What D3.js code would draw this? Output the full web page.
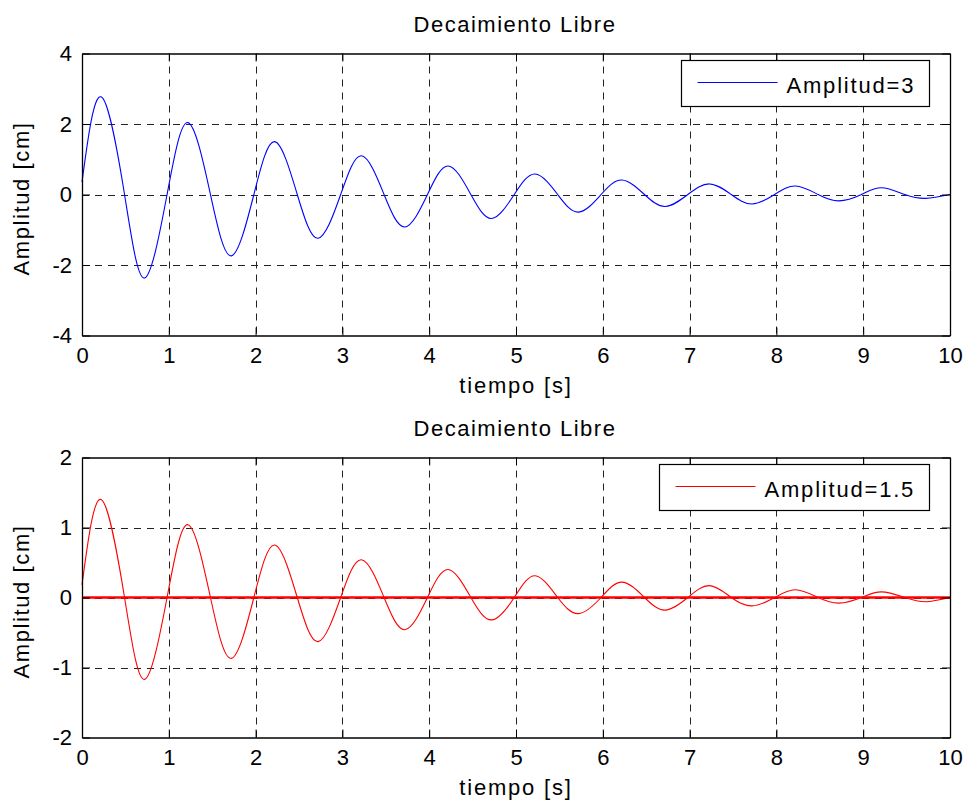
<!DOCTYPE html>
<html>
<head>
<meta charset="utf-8">
<script src="https://cdn.jsdelivr.net/npm/d3@7"></script>
<style>
  body { margin: 0; background: #fff; }
  text { font-family: "Liberation Sans", Arial, Helvetica, sans-serif; fill: #000; }
</style>
</head>
<body>
<div id="chart"></div>
<script>
// valores
var tiempo = [0, 0.22, 0.49, 0.72, 0.98, 1.22, 1.48, 1.72, 1.98, 2.22, 2.48, 2.72, 2.98,
  3.22, 3.48, 3.72, 3.98, 4.22, 4.48, 4.72, 4.98, 5.22, 5.48, 5.72, 5.98, 6.22, 6.48,
  6.72, 6.98, 7.23, 7.48, 7.72, 7.98, 8.22, 8.48, 8.72, 8.98, 9.21, 9.48, 9.72, 10];

var amp3 = [0.35, 2.77, 0, -2.37, 0, 2.04, 0, -1.74, 0, 1.5, 0, -1.24, 0,
  1.1, 0, -0.92, 0, 0.81, 0, -0.68, 0, 0.58, 0, -0.5, 0, 0.41, 0,
  -0.34, 0, 0.3, 0, -0.27, 0, 0.24, 0, -0.18, 0, 0.19, 0, -0.11, 0];

var amp15 = [0.18, 1.4, 0, -1.17, 0, 1.04, 0, -0.87, 0, 0.75, 0, -0.63, 0,
  0.54, 0, -0.46, 0, 0.4, 0, -0.32, 0, 0.31, 0, -0.23, 0, 0.22, 0,
  -0.18, 0, 0.17, 0, -0.12, 0, 0.11, 0, -0.08, 0, 0.08, 0, -0.06, 0];

var xTicks = [0, 1, 2, 3, 4, 5, 6, 7, 8, 9, 10];
var yTicks1 = [-4, -2, 0, 2, 4];
var yTicks2 = [-2, -1, 0, 1, 2];

var W = 969, H = 812;
var svg = d3.select("#chart").append("svg")
  .attr("width", W)
  .attr("height", H);

function fmt(d){ return String(d); }

function subplot(top, bottom, yDom, yTicks, vals, color, label, legBox, zeroLine){
  var x = d3.scaleLinear().domain([0, 10]).range([82, 950]);
  var y = d3.scaleLinear().domain(yDom).range([bottom, top]);
  var g = svg.append("g");

  // grid
  g.selectAll(".gx").data(xTicks.slice(1, -1)).enter().append("line")
    .attr("x1", function(d){ return Math.round(x(d)) + 0.5; })
    .attr("x2", function(d){ return Math.round(x(d)) + 0.5; })
    .attr("y1", top).attr("y2", bottom)
    .attr("stroke", "#222").attr("stroke-dasharray", "7,6");
  g.selectAll(".gy").data(yTicks.slice(1, -1)).enter().append("line")
    .attr("y1", function(d){ return Math.round(y(d)) + 0.5; })
    .attr("y2", function(d){ return Math.round(y(d)) + 0.5; })
    .attr("x1", 82).attr("x2", 950)
    .attr("stroke", "#222").attr("stroke-dasharray", "7,6");

  // curva
  var pts = tiempo.map(function(t, i){ return [t, vals[i]]; });
  var line = d3.line()
    .x(function(d){ return x(d[0]); })
    .y(function(d){ return y(d[1]); })
    .curve(d3.curveNatural);
  g.append("path").datum(pts)
    .attr("d", line)
    .attr("fill", "none")
    .attr("stroke", color)
    .attr("stroke-width", 1.1);

  if (zeroLine){
    g.append("path").datum([[0, 0], [10, 0]])
      .attr("d", d3.line().x(function(d){ return x(d[0]); }).y(function(d){ return y(d[1]); }))
      .attr("stroke", color)
      .attr("stroke-width", 2.5);
  }

  // ejes (ticks hacia adentro, caja completa)
  var tl = 8;
  g.append("g").attr("transform", "translate(0," + bottom + ")")
    .call(d3.axisBottom(x).tickValues(xTicks).tickFormat(fmt).tickSizeInner(-tl).tickSizeOuter(0).tickPadding(12));
  g.append("g").attr("transform", "translate(0," + top + ")")
    .call(d3.axisTop(x).tickValues(xTicks).tickSizeInner(-tl).tickSizeOuter(0).tickFormat(""));
  g.append("g").attr("transform", "translate(82,0)")
    .call(d3.axisLeft(y).tickValues(yTicks).tickFormat(fmt).tickSizeInner(-tl).tickSizeOuter(0).tickPadding(10));
  g.append("g").attr("transform", "translate(950,0)")
    .call(d3.axisRight(y).tickValues(yTicks).tickSizeInner(-tl).tickSizeOuter(0).tickFormat(""));
  g.selectAll(".domain").attr("stroke", "#000").attr("stroke-width", 1.3);
  g.selectAll(".tick line").attr("stroke", "#000");
  g.selectAll(".tick text")
    .style("font-family", "'Liberation Sans', Arial, sans-serif")
    .style("font-size", "22px")
    .attr("fill", "#000");

  // textos
  g.append("text")
    .attr("x", 515).attr("y", top - 22)
    .attr("text-anchor", "middle")
    .style("font-size", "22px").style("letter-spacing", "1.5px")
    .text("Decaimiento Libre");
  g.append("text")
    .attr("x", 516).attr("y", bottom + 57)
    .attr("text-anchor", "middle")
    .style("font-size", "22px").style("letter-spacing", "1.8px")
    .text("tiempo [s]");
  g.append("text")
    .attr("transform", "translate(29," + ((top + bottom) / 2 + 4) + ") rotate(-90)")
    .attr("text-anchor", "middle")
    .style("font-size", "22px").style("letter-spacing", "1.6px")
    .text("Amplitud [cm]");

  // leyenda
  var lg = g.append("g");
  lg.append("rect")
    .attr("x", legBox[0]).attr("y", legBox[1])
    .attr("width", 929.5 - legBox[0]).attr("height", 46)
    .attr("fill", "#fff").attr("stroke", "#000").attr("stroke-width", 1.2);
  lg.append("line")
    .attr("x1", legBox[0] + 16).attr("x2", legBox[0] + 96)
    .attr("y1", legBox[1] + 22).attr("y2", legBox[1] + 22)
    .attr("stroke", color).attr("stroke-width", 1.1);
  lg.append("text")
    .attr("x", legBox[0] + 105).attr("y", legBox[1] + 32)
    .style("font-size", "22px").style("letter-spacing", "1.8px")
    .text(label);
}

subplot(53.5, 335.5, [-4, 4], yTicks1, amp3, "#0000ff", "Amplitud=3", [681.5, 60.5], false);
subplot(457.5, 737.5, [-2, 2], yTicks2, amp15, "#ff0000", "Amplitud=1.5", [659.5, 464.5], true);
</script>
</body>
</html>
